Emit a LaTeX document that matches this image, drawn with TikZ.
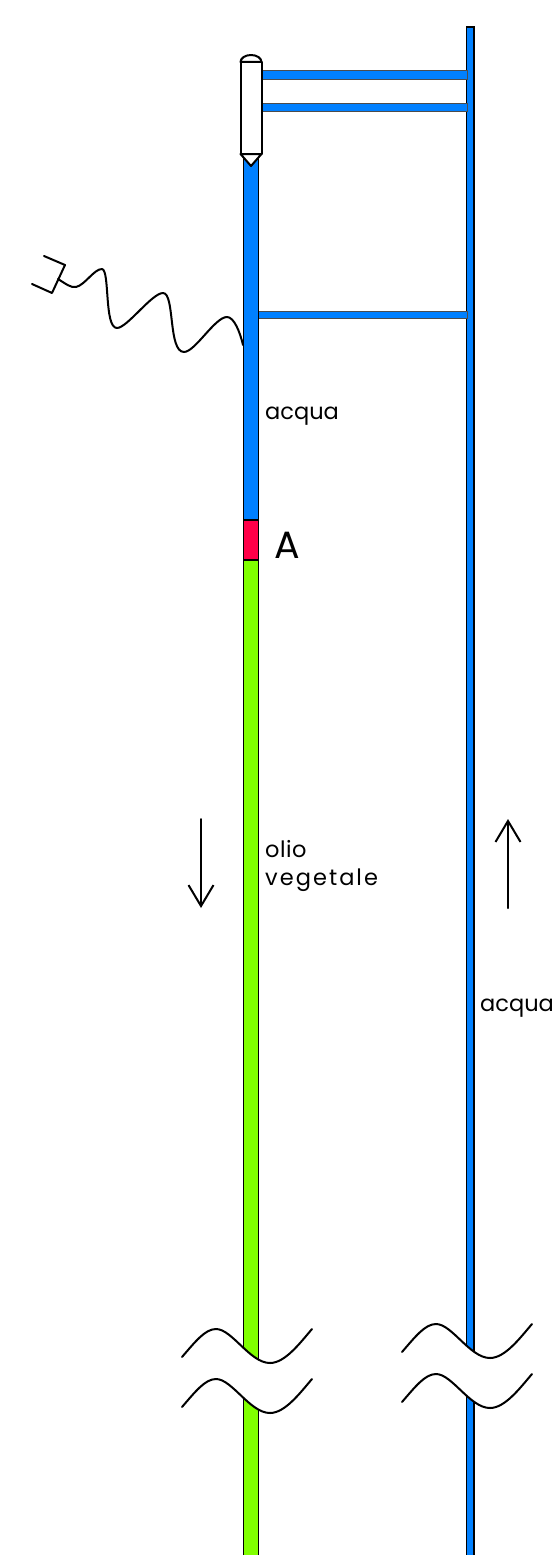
\documentclass[tikz,border=0pt]{standalone}
\usepackage{fontspec}
\setmainfont{Poppins}
\usetikzlibrary{arrows.meta}
\definecolor{waterblue}{HTML}{0080FF}
\definecolor{plugred}{HTML}{FF0048}
\definecolor{oilgreen}{HTML}{80FF00}
\tikzset{
  pipe/.style={draw=black,line width=1.6pt},
  branch/.style={draw=black!70,line width=1pt,fill=waterblue},
  wire/.style={draw=black,line width=2pt,line cap=round,line join=round},
  flow/.style={wire,-{Straight Barb[length=21pt,width=25pt,line width=2pt]}},
  label/.style={anchor=base west,inner sep=0pt,font=\fontsize{22.5}{27}\selectfont},
}
\begin{document}
\begin{tikzpicture}[x=1pt,y=-1pt]
\useasboundingbox (0,0) rectangle (558,1555);

\draw[pipe,fill=waterblue] (466.5,27) rectangle (474,1400);
\draw[pipe,fill=waterblue] (466.5,1380) rectangle (474,1558);

\draw[branch] (260,71) rectangle (467,79);
\draw[branch] (260,103) rectangle (467,111);
\draw[branch] (258,311) rectangle (467,318.5);

\draw[pipe,fill=waterblue] (243.5,150) rectangle (258.5,520);
\draw[pipe,fill=plugred] (243.5,520) rectangle (258.5,560);
\draw[pipe,fill=oilgreen] (243.5,560) rectangle (258.5,1558);

\draw[wire,fill=white] (240.5,62) arc[start angle=180,end angle=360,x radius=10.5,y radius=7] -- cycle;
\draw[wire,fill=white] (240.5,154) -- (251,166) -- (261.5,154) -- cycle;
\draw[wire,fill=white] (240.5,62) rectangle (261.5,154);

\coordinate (plugtop) at (44,256);
\coordinate (plugback) at (65,265);
\coordinate (plugfront) at (52,293);
\coordinate (plugbot) at (32,284);
\coordinate (wirestart) at (58,279);
\coordinate (wireend) at (243,345);
\draw[wire] (plugtop) -- (plugback) -- (plugfront) -- (plugbot);
\draw[wire] (wirestart) .. controls (66,284) and (71,288) .. (76,287)
  .. controls (85,285) and (94,269) .. (102,269)
  .. controls (110,270) and (104,328) .. (117,328)
  .. controls (127,328) and (152,293) .. (163,293)
  .. controls (175,293) and (168,352) .. (184,352)
  .. controls (195,352) and (215,317) .. (227,317)
  .. controls (234,317) and (240,332) .. (wireend);

\fill[white] (182,1357) .. controls (195,1342) and (205,1329) .. (216,1329)
  .. controls (232,1329) and (250,1363) .. (270,1363)
  .. controls (285,1363) and (300,1343) .. (312,1329)
  -- (312,1379) .. controls (300,1393) and (285,1413) .. (270,1413)
  .. controls (250,1413) and (232,1379) .. (216,1379)
  .. controls (205,1379) and (195,1392) .. (182,1407) -- cycle;
\fill[white] (402,1352) .. controls (415,1337) and (425,1324) .. (436,1324)
  .. controls (452,1324) and (470,1358) .. (490,1358)
  .. controls (505,1358) and (520,1338) .. (532,1324)
  -- (532,1374) .. controls (520,1388) and (505,1408) .. (490,1408)
  .. controls (470,1408) and (452,1374) .. (436,1374)
  .. controls (425,1374) and (415,1387) .. (402,1402) -- cycle;

\draw[wire] (182,1357) .. controls (195,1342) and (205,1329) .. (216,1329)
  .. controls (232,1329) and (250,1363) .. (270,1363)
  .. controls (285,1363) and (300,1343) .. (312,1329);
\draw[wire] (182,1407) .. controls (195,1392) and (205,1379) .. (216,1379)
  .. controls (232,1379) and (250,1413) .. (270,1413)
  .. controls (285,1413) and (300,1393) .. (312,1379);
\draw[wire] (402,1352) .. controls (415,1337) and (425,1324) .. (436,1324)
  .. controls (452,1324) and (470,1358) .. (490,1358)
  .. controls (505,1358) and (520,1338) .. (532,1324);
\draw[wire] (402,1402) .. controls (415,1387) and (425,1374) .. (436,1374)
  .. controls (452,1374) and (470,1408) .. (490,1408)
  .. controls (505,1408) and (520,1388) .. (532,1374);

\coordinate (downstart) at (201,819);
\coordinate (downend) at (201,908);
\coordinate (upstart) at (508,908);
\coordinate (upend) at (508,819);
\draw[flow] (downstart) -- (downend);
\draw[flow] (upstart) -- (upend);

\node[label] (acquatop) at (265,419) {acqua};
\node[label,font=\fontsize{38}{40}\selectfont] (valveA) at (274,558) {A};
\node[label] (olio) at (265,857) {\addfontfeature{LetterSpace=2}olio};
\node[label] (vegetale) at (265,885) {\addfontfeature{LetterSpace=9}vegetale};
\node[label] (acquaright) at (480,1011) {acqua};
\end{tikzpicture}
\end{document}
